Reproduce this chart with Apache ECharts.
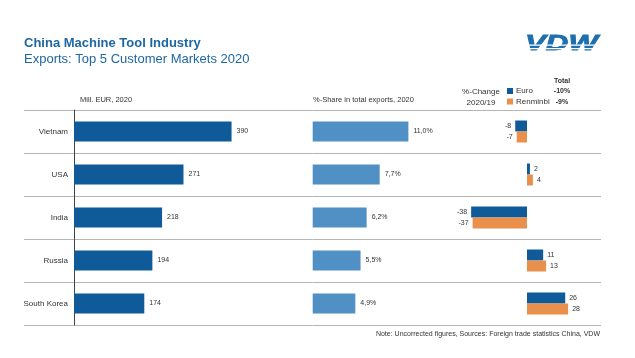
<!DOCTYPE html>
<html><head><meta charset="utf-8">
<script src="https://cdn.jsdelivr.net/npm/echarts@6/dist/echarts.min.js"></script>
<style>html,body{margin:0;padding:0;background:#fff}#c{width:635px;height:358px}</style>
</head><body><div id="c"></div>
<script>
const categories = ['Vietnam', 'USA', 'India', 'Russia', 'South Korea'];
const exportsMillEur = [390, 271, 218, 194, 174];
const sharePct = [11.0, 7.7, 6.2, 5.5, 4.9];
const changeEuro = [-8, 2, -38, 11, 26];
const changeRmb = [-7, 4, -37, 13, 28];
const totalEuro = '-10%';
const totalRmb = '-9%';

const FONT = 'Liberation Sans, Arial, sans-serif';
const DARK = '#0f5a99';
const LIGHT = '#5190c4';
const ORANGE = '#e8904c';
const TITLE = '#1d67a3';
const TXT = '#333';

const chart = echarts.init(document.getElementById('c'), null, {renderer: 'canvas'});

const gridTop = 110, gridHeight = 215;
function catAxis(idx, opts) {
  return Object.assign({
    type: 'category', gridIndex: idx, data: categories, inverse: true,
    axisLine: {show: false}, axisTick: {show: false}, axisLabel: {show: false},
    splitLine: {show: false}
  }, opts || {});
}
function valAxis(idx, min, max) {
  return {type: 'value', gridIndex: idx, min: min, max: max, show: false, splitLine: {show: false}};
}
function chgData(arr) {
  return arr.map(v => ({value: v, label: {position: v < 0 ? 'left' : 'right'}}));
}
const smallLabel = {show: true, fontFamily: FONT, fontSize: 7, color: TXT, distance: 5};

chart.setOption({
  animation: false,
  grid: [
    {left: 24, width: 577, top: gridTop, height: gridHeight},
    {left: 74, width: 202, top: gridTop, height: gridHeight},
    {left: 312.7, width: 174, top: gridTop, height: gridHeight},
    {left: 453.5, width: 147, top: gridTop, height: gridHeight}
  ],
  xAxis: [valAxis(0, 0, 1), valAxis(1, 0, 500), valAxis(2, 0, 20), valAxis(3, -50, 50)],
  yAxis: [
    catAxis(0, {splitLine: {show: true, lineStyle: {color: '#b5b5b5', width: 1}}}),
    catAxis(1, {axisLine: {show: true, lineStyle: {color: '#444', width: 1}},
      axisLabel: {show: true, fontFamily: FONT, fontSize: 8, color: TXT, margin: 6}}),
    catAxis(2),
    catAxis(3)
  ],
  series: [
    {type: 'bar', xAxisIndex: 1, yAxisIndex: 1, data: exportsMillEur, barWidth: 20,
      itemStyle: {color: DARK}, label: Object.assign({}, smallLabel, {position: 'right'})},
    {type: 'bar', xAxisIndex: 2, yAxisIndex: 2, data: sharePct, barWidth: 20,
      itemStyle: {color: LIGHT},
      label: Object.assign({}, smallLabel, {position: 'right',
        formatter: p => p.value.toFixed(1).replace('.', ',') + '%'})},
    {type: 'bar', name: 'Euro', xAxisIndex: 3, yAxisIndex: 3, data: chgData(changeEuro),
      barWidth: 11, barGap: '0%', itemStyle: {color: DARK}, label: Object.assign({}, smallLabel, {distance: 4})},
    {type: 'bar', name: 'Renminbi', xAxisIndex: 3, yAxisIndex: 3, data: chgData(changeRmb),
      barWidth: 11, barGap: '0%', itemStyle: {color: ORANGE}, label: Object.assign({}, smallLabel, {distance: 4})}
  ],
  graphic: [
    {type: 'text', left: 24, top: 37, style: {text: 'China Machine Tool Industry', fontFamily: FONT, fontSize: 13, fontWeight: 'bold', fill: TITLE}},
    {type: 'text', left: 24, top: 53, style: {text: 'Exports: Top 5 Customer Markets 2020', fontFamily: FONT, fontSize: 13, fill: TITLE}},
    {type: 'group', x: 525, y: 33, children: [
      {type: 'text', x: 0, y: 0, scaleX: 1.42, style: {text: 'VDW', fontFamily: FONT, fontSize: 22, fontWeight: 900, fontStyle: 'italic', fill: '#1f6fae', stroke: '#1f6fae', lineWidth: 0.8}},
      {type: 'rect', shape: {x: -5, y: 11.5, width: 90, height: 1.3}, style: {fill: '#fff'}},
      {type: 'rect', shape: {x: -5, y: 15, width: 90, height: 1.3}, style: {fill: '#fff'}}
    ]},
    {type: 'text', left: 80, top: 96, style: {text: 'Mill. EUR, 2020', fontFamily: FONT, fontSize: 7.5, fill: TXT}},
    {type: 'text', left: 313, top: 96, style: {text: '%-Share in total exports, 2020', fontFamily: FONT, fontSize: 7.5, fill: TXT}},
    {type: 'text', x: 481, y: 87, style: {text: '%-Change\n2020/19', fontFamily: FONT, fontSize: 8, lineHeight: 10.5, fill: TXT, align: 'center'}},
    {type: 'rect', shape: {x: 507, y: 88, width: 6, height: 6}, style: {fill: DARK}},
    {type: 'rect', shape: {x: 507, y: 98.5, width: 6, height: 6}, style: {fill: ORANGE}},
    {type: 'text', x: 516, y: 87, style: {text: 'Euro', fontFamily: FONT, fontSize: 8, fill: TXT}},
    {type: 'text', x: 516, y: 97.5, style: {text: 'Renminbi', fontFamily: FONT, fontSize: 8, fill: TXT}},
    {type: 'text', x: 562, y: 78, style: {text: 'Total', fontFamily: FONT, fontSize: 7, fontWeight: 'bold', fill: TXT, align: 'center'}},
    {type: 'text', x: 562, y: 87.5, style: {text: totalEuro, fontFamily: FONT, fontSize: 7, fontWeight: 'bold', fill: TXT, align: 'center'}},
    {type: 'text', x: 562, y: 98.5, style: {text: totalRmb, fontFamily: FONT, fontSize: 7, fontWeight: 'bold', fill: TXT, align: 'center'}},
    {type: 'text', x: 600, y: 331, style: {text: 'Note: Uncorrected figures, Sources: Foreign trade statistics China, VDW', fontFamily: FONT, fontSize: 7, fill: TXT, align: 'right'}}
  ]
});
</script></body></html>
